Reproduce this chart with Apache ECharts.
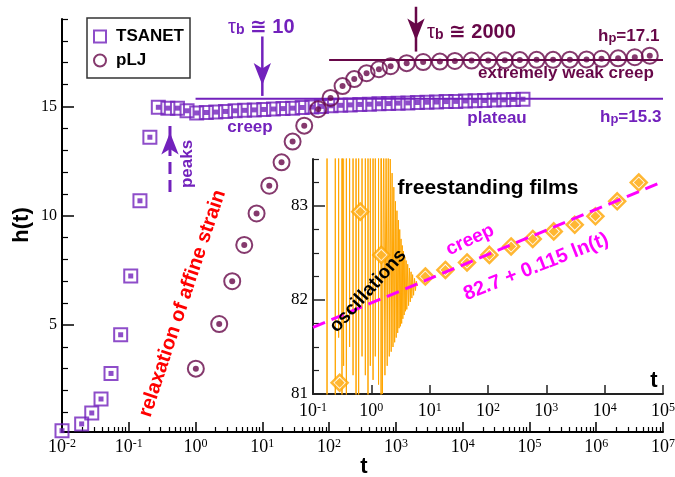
<!DOCTYPE html>
<html><head><meta charset="utf-8">
<script src="https://cdn.jsdelivr.net/npm/echarts@6/dist/echarts.min.js"></script>
<style>html,body{margin:0;padding:0;background:#fff}#c{width:675px;height:477px}</style>
</head><body><div id="c"></div>
<script>
// ---------- data ----------
const tsanetT = [0.01, 0.0197, 0.0279, 0.0384, 0.0542, 0.0756, 0.107, 0.147, 0.207,
  0.277, 0.385, 0.536, 0.746, 1.04, 1.45, 2.01, 2.81, 3.91, 5.43, 7.57, 10.5, 14.7, 20.4, 28.4, 39.5, 55.1, 76.7,
  107, 149, 207, 288, 401, 558, 778, 1080, 1510, 2100, 2920, 4060, 5660, 7890, 11000, 15300, 21300, 29600, 41200, 57400, 80000];
const tsanetH = [0.16, 0.47, 0.97, 1.61, 2.78, 4.55, 7.24, 10.68, 13.59,
  14.96, 14.92, 14.92, 14.8, 14.7, 14.72, 14.74, 14.77, 14.8, 14.82, 14.84, 14.86, 14.88, 14.9, 14.92, 14.95, 14.97, 15.0,
  15.03, 15.05, 15.07, 15.09, 15.1, 15.12, 15.13, 15.15, 15.16, 15.18, 15.19, 15.2, 15.22, 15.23, 15.25, 15.26, 15.27, 15.29, 15.3, 15.32, 15.33];
const pljT = [1.01, 2.26, 3.54, 5.36, 8.2, 12.7, 19.4, 28.4, 42.4, 68.7, 105, 159, 238, 364, 557, 834, 1450, 2560, 4560, 7650,
  13600, 24100, 42800, 71800, 128000, 226000, 403000, 716000, 1200000, 2130000, 3780000, 6340000];
const pljH = [3.0, 5.04, 7.0, 8.66, 10.1, 11.37, 12.44, 13.39, 14.12, 14.87, 15.39, 15.93, 16.25, 16.52, 16.7, 16.84, 16.98, 17.03, 17.05, 17.08,
  17.1, 17.1, 17.11, 17.12, 17.13, 17.13, 17.14, 17.15, 17.18, 17.2, 17.25, 17.32];
const plateauT = [1, 1e7];
const plateauH = [15.35, 15.35];
const weakT = [100, 1e7];
const weakH = [17.12, 17.12];
// annotation arrows: [t, h start, h tip]
const arrowTau10 = [10, 18.2, 15.48];
const arrowTau2000 = [2000, 19.56, 17.51];
const arrowPeaks = [0.414, 11.08, 14.31];

// inset: freestanding films
const filmT = [0.286, 0.647, 1.48, 8.43, 18.6, 43.7, 105.6, 249, 585, 1340, 3070, 6950, 16400, 38400];
const filmH = [81.12, 82.94, 82.48, 82.25, 82.32, 82.40, 82.48, 82.57, 82.65, 82.73, 82.80, 82.89, 83.05, 83.25];
const fitT = [0.1, 1e5];
const fitH = [81.71, 83.26];
// oscillation trace: clipped spikes (values beyond the axis range are cut off), then a dense decaying part
const oscT = [
  0.174,0.174,0.174, 0.241,0.241,0.241, 0.275,0.275,0.275, 0.314,0.314,0.314, 0.335,0.335,0.335, 0.373,0.373,0.373,
  0.424,0.424,0.424, 0.486,0.486,0.486, 0.547,0.547,0.547, 0.606,0.606,0.606, 0.693,0.693,0.693, 0.789,0.789,0.789,
  0.877,0.877,0.877, 0.961,0.961,0.961, 1.07,1.07,1.07, 1.17,1.17,1.17, 1.33,1.33,1.33, 1.47,1.47,1.47,
  1.55,1.63,1.71,1.79,1.87,1.95,2.03,2.11,2.19,2.27,2.35,2.43,2.51,2.59,2.67,2.75,2.83,2.91,2.99,3.07,
  3.15,3.23,3.31,3.39,3.47,3.55,3.65,3.75,3.85,3.95,4.05,4.2,4.35,4.5,4.65,4.8,4.95,5.1,5.3,5.5,5.7,5.9,6.2];
const oscH = [
  84.5,80.5,84.5, 84.5,80.5,84.5, 84.5,81.6,84.5, 84.5,80.5,84.5, 84.5,81.3,84.5, 84.5,80.5,84.5,
  84.5,81.5,84.5, 84.5,81.2,84.5, 84.5,80.5,84.5, 84.5,80.5,84.5, 84.5,81.4,84.5, 84.5,81.2,84.5,
  84.5,80.5,84.5, 84.5,81.3,84.5, 84.5,81.15,84.5, 84.5,81.4,84.5, 84.5,81.1,84.5, 84.5,80.5,84.5,
  81.0,83.9,81.2,83.7,81.3,83.6,81.4,83.5,81.45,83.35,81.5,83.2,81.55,83.05,81.6,82.95,81.65,82.85,81.7,82.75,
  81.72,82.65,81.75,82.58,81.8,82.52,81.84,82.46,81.88,82.42,81.9,82.38,81.94,82.34,81.98,82.3,82.02,82.27,82.05,82.23,82.1,82.2,82.15];

// ticks
const mainDecades = [0.01, 0.1, 1, 10, 100, 1e3, 1e4, 1e5, 1e6, 1e7];
const insetDecades = [0.1, 1, 10, 100, 1e3, 1e4, 1e5];
const minorMult = [2, 3, 4, 5, 6, 7, 8, 9];
const mainYMajor = [5, 10, 15];
const mainYMinor = [1, 2, 3, 4, 6, 7, 8, 9, 11, 12, 13, 14, 16, 17, 18, 19];
const insetYMajor = [81, 82, 83];
const insetYMinor = [81.25, 81.5, 81.75, 82.25, 82.5, 82.75, 83.25, 83.5];

// ---------- styling ----------
const INDIGO = '#7221BC', MAROON = '#670748', ORANGE = '#FFA500', MAGENTA = '#FF00FF', RED = '#FF0000';
const SANS = '"Liberation Sans", Arial, "DejaVu Sans", sans-serif';
const SERIF = '"Liberation Serif", "Times New Roman", serif';

const mainMinor = [];
mainDecades.slice(0, -1).forEach(d => minorMult.forEach(m => mainMinor.push(+(d * m).toPrecision(6))));
const zip = (a, b) => a.map((v, i) => [v, b[i]]);

function expFmt(v) {
  const e = Math.round(Math.log10(v));
  return '{b|10}{s|' + (e < 0 ? '-' + (-e) : e) + '}';
}
const richTick = {
  b: { fontFamily: SERIF, fontSize: 18, color: '#000', lineHeight: 22, verticalAlign: 'top' },
  s: { fontFamily: SERIF, fontSize: 12, color: '#000', lineHeight: 8, verticalAlign: 'top' }
};

function logX(grid, min, max, major, minor, color, tickLen, margin) {
  const axes = [{
    gridIndex: grid, type: 'log', logBase: 10, min, max, position: 'bottom',
    axisLine: { show: true, onZero: false, lineStyle: { color, width: 2 } },
    axisTick: { show: true, inside: true, length: tickLen, customValues: major, lineStyle: { color, width: 1.5 } },
    axisLabel: { show: true, customValues: major, formatter: expFmt, rich: richTick, margin },
    splitLine: { show: false }, minorTick: { show: false }
  }];
  if (minor) axes.push({
    gridIndex: grid, type: 'log', logBase: 10, min, max, position: 'bottom',
    axisLine: { show: false },
    axisTick: { show: true, inside: true, length: 5, customValues: minor, lineStyle: { color, width: 1.2 } },
    axisLabel: { show: false }, splitLine: { show: false }
  });
  return axes;
}
function linY(grid, min, max, major, minor, color, fontSize) {
  return [{
    gridIndex: grid, type: 'value', min, max, position: 'left',
    axisLine: { show: true, onZero: false, lineStyle: { color, width: 2 } },
    axisTick: { show: true, inside: true, length: 12, customValues: major, lineStyle: { color, width: 1.5 } },
    axisLabel: { show: true, customValues: major, fontFamily: SERIF, fontSize, color: '#000', margin: 5 },
    splitLine: { show: false }
  }, {
    gridIndex: grid, type: 'value', min, max, position: 'left',
    axisLine: { show: false },
    axisTick: { show: true, inside: true, length: 6, customValues: minor, lineStyle: { color, width: 1.2 } },
    axisLabel: { show: false }, splitLine: { show: false }
  }];
}

function label(x, y, text, color, size, rot) {
  return { type: 'text', x, y, rotation: (rot || 0) * Math.PI / 180, silent: true, z: 100,
    style: { text, fill: color, font: 'bold ' + size + 'px ' + SANS, align: 'center', verticalAlign: 'middle',
      textAlign: 'center', textVerticalAlign: 'middle' } };
}
// text with subscript: all tokens bottom-aligned, subscript with a small line height sits lower
function subLabel(x, y, parts, color, size, subSize, lh, subLh) {
  const rich = {
    m: { fill: color, color, fontSize: size, fontWeight: 'bold', fontFamily: SANS, lineHeight: lh, verticalAlign: 'bottom' },
    g: { fill: color, color, fontSize: size, fontWeight: 'normal', fontFamily: SANS, lineHeight: lh, verticalAlign: 'bottom' },
    s: { fill: color, color, fontSize: subSize, fontWeight: 'bold', fontFamily: SANS, lineHeight: subLh, verticalAlign: 'bottom' }
  };
  return { type: 'text', x, y, silent: true, z: 100,
    style: { text: parts.map(p => '{' + p[0] + '|' + p[1] + '}').join(''), rich, fill: color,
      align: 'left', verticalAlign: 'top', textAlign: 'left', textVerticalAlign: 'top' } };
}

// arrow as a two-point line whose end carries an arrow head (tip placed on the end point)
function arrowSeries(a, color, width, dash) {
  const down = a[2] < a[1];
  return {
    type: 'line', xAxisIndex: 0, yAxisIndex: 0, clip: false, silent: true, z: 6,
    lineStyle: { color, width, type: dash || 'solid' }, itemStyle: { color },
    showSymbol: true, showAllSymbol: true,
    data: [
      { value: [a[0], a[1]], symbol: 'none' },
      { value: [a[0], a[2]], symbol: 'arrow', symbolSize: [13, 22], symbolKeepAspect: false,
        symbolRotate: down ? 180 : 0, symbolOffset: [0, down ? -11 : 11] }
    ]
  };
}

const option = {
  animation: false,
  backgroundColor: '#fff',
  grid: [
    { left: 62, top: 19, width: 601, height: 413, containLabel: false, outerBoundsMode: 'none' },
    { left: 313, top: 159, width: 350, height: 235, containLabel: false, outerBoundsMode: 'none' }
  ],
  xAxis: [...logX(0, 0.01, 1e7, mainDecades, mainMinor, '#000', 10, 6), ...logX(1, 0.1, 1e5, insetDecades, null, '#222', 9, 8)],
  yAxis: [...linY(0, 0.1, 19, mainYMajor, mainYMinor, '#000', 16), ...linY(1, 81, 83.5, insetYMajor, insetYMinor, '#222', 17)],
  legend: {
    left: 87, top: 18, orient: 'vertical', padding: [10, 6, 9, 6], itemGap: 7, itemWidth: 12, itemHeight: 12,
    borderColor: '#333', borderWidth: 1.5, borderRadius: 0, backgroundColor: '#fff', selectedMode: false,
    textStyle: { fontFamily: SANS, fontWeight: 'bold', fontSize: 17, color: '#000', padding: [0, 0, 0, 5] },
    data: [
      { name: 'TSANET', icon: 'rect', itemStyle: { color: '#fff', borderColor: INDIGO, borderWidth: 2 } },
      { name: 'pLJ', icon: 'circle', itemStyle: { color: '#fff', borderColor: MAROON, borderWidth: 2 } }
    ]
  },
  series: [
    { name: 'plateau', type: 'line', xAxisIndex: 0, yAxisIndex: 0, data: zip(plateauT, plateauH), symbol: 'none',
      lineStyle: { color: INDIGO, width: 2 }, clip: false, silent: true, z: 2 },
    { name: 'weak', type: 'line', xAxisIndex: 0, yAxisIndex: 0, data: zip(weakT, weakH), symbol: 'none',
      lineStyle: { color: MAROON, width: 2 }, clip: false, silent: true, z: 2 },
    arrowSeries(arrowTau10, INDIGO, 2.5),
    arrowSeries(arrowTau2000, MAROON, 2.5),
    arrowSeries(arrowPeaks, INDIGO, 3, [12, 6]),
    { name: 'TSANET', type: 'scatter', xAxisIndex: 0, yAxisIndex: 0, data: zip(tsanetT, tsanetH), symbol: 'rect', symbolSize: 13,
      itemStyle: { color: 'rgba(0,0,0,0)', borderColor: INDIGO, borderWidth: 2 }, clip: false, silent: true, z: 3 },
    { name: 'TSANET inner', type: 'scatter', xAxisIndex: 0, yAxisIndex: 0, data: zip(tsanetT, tsanetH), symbol: 'rect', symbolSize: 5,
      itemStyle: { color: INDIGO }, clip: false, silent: true, z: 3 },
    { name: 'pLJ', type: 'scatter', xAxisIndex: 0, yAxisIndex: 0, data: zip(pljT, pljH), symbol: 'circle', symbolSize: 16,
      itemStyle: { color: 'rgba(0,0,0,0)', borderColor: MAROON, borderWidth: 2 }, clip: false, silent: true, z: 4 },
    { name: 'pLJ inner', type: 'scatter', xAxisIndex: 0, yAxisIndex: 0, data: zip(pljT, pljH), symbol: 'circle', symbolSize: 6,
      itemStyle: { color: MAROON }, clip: false, silent: true, z: 4 },
    // inset
    { name: 'oscillation', type: 'line', xAxisIndex: 2, yAxisIndex: 2, data: zip(oscT, oscH), symbol: 'none',
      lineStyle: { color: ORANGE, width: 1 }, clip: true, silent: true, z: 2 },
    { name: 'films', type: 'scatter', xAxisIndex: 2, yAxisIndex: 2, data: zip(filmT, filmH), symbol: 'diamond', symbolSize: 16,
      itemStyle: { color: '#fff', borderColor: ORANGE, borderWidth: 2.5 }, clip: false, silent: true, z: 3 },
    { name: 'films inner', type: 'scatter', xAxisIndex: 2, yAxisIndex: 2, data: zip(filmT, filmH), symbol: 'diamond', symbolSize: 10,
      itemStyle: { color: ORANGE }, clip: false, silent: true, z: 3 },
    { name: 'fit', type: 'line', xAxisIndex: 2, yAxisIndex: 2, data: zip(fitT, fitH), symbol: 'none',
      lineStyle: { color: MAGENTA, width: 3, type: [13, 7] }, clip: true, silent: true, z: 4 }
  ],
  graphic: [
    subLabel(228, 15, [['g', 'τ'], ['s', 'b'], ['m', ' ≅ 10']], INDIGO, 20, 14, 22, 6),
    subLabel(427, 20.5, [['g', 'τ'], ['s', 'b'], ['m', ' ≅ 2000']], MAROON, 20, 14, 22, 6),
    subLabel(598, 24.5, [['m', 'h'], ['s', 'p'], ['m', '=17.1']], MAROON, 17, 13, 20, 6),
    subLabel(600, 106, [['m', 'h'], ['s', 'p'], ['m', '=15.3']], INDIGO, 17, 13, 20, 6),
    label(566, 73, 'extremely weak creep', MAROON, 17, 0),
    label(497, 118, 'plateau', INDIGO, 17, 0),
    label(250, 127, 'creep', INDIGO, 17, 0),
    label(187, 164, 'peaks', INDIGO, 17, 90),
    label(182.5, 303.5, 'relaxation of affine strain', RED, 20, 71.6),
    label(488, 188, 'freestanding films', '#000', 21, 0),
    label(368, 291, 'oscillations', '#000', 19, 48),
    label(470, 240, 'creep', MAGENTA, 19, 25),
    label(536, 267, '82.7 + 0.115 ln(t)', MAGENTA, 20, 21.5),
    label(654, 381, 't', '#000', 22, 0),
    label(364, 467, 't', '#000', 22, 0),
    label(22, 225, 'h(t)', '#000', 22, 90)
  ]
};

const chart = echarts.init(document.getElementById('c'), null, { renderer: 'canvas' });
chart.setOption(option);
</script>
</body></html>
